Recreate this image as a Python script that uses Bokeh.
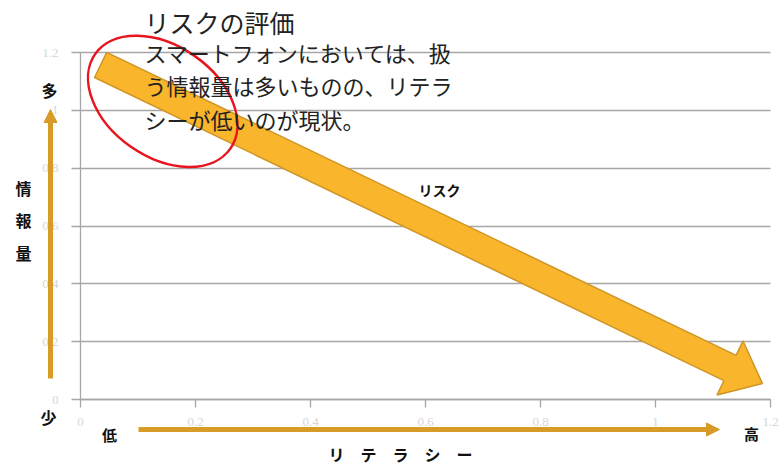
import numpy as np
from bokeh.plotting import figure
from bokeh.models import Range1d, FixedTicker, NumeralTickFormatter, Label, Arrow, NormalHead
from bokeh.embed import file_html
from bokeh.resources import INLINE

# ---------------- data ----------------
x_ticks = [0, 0.2, 0.4, 0.6, 0.8, 1.0, 1.2]
y_ticks = [0, 0.2, 0.4, 0.6, 0.8, 1.0, 1.2]
risk_literacy = [0.035, 1.186]      # start / tip of the risk arrow (x)
risk_info = [1.157, 0.055]          # start / tip of the risk arrow (y)
focus_literacy = [0.143]            # centre of the red ellipse (x)
focus_info = [1.031]                # centre of the red ellipse (y)
title_text = "リスクの評価"
body_lines = ["スマートフォンにおいては、扱", "う情報量は多いものの、リテラ", "シーが低いのが現状。"]
risk_label = "リスク"
x_axis_chars = ["リ", "テ", "ラ", "シ", "ー"]
y_axis_chars = ["情", "報", "量"]
x_low, x_high = "低", "高"
y_high, y_low = "多", "少"

# ---------------- layout ----------------
W, H = 779, 466
PX0, PX1 = 80, 770    # pixel of x=0 and x=1.2
PY0, PY1 = 399, 52    # pixel of y=0 and y=1.2
sx = (PX1 - PX0) / 1.2
sy = (PY0 - PY1) / 1.2

def dx(px):
    return (px - PX0) / sx

def dy(py):
    return (PY0 - py) / sy

def px_of(x):
    return PX0 + x * sx

def py_of(y):
    return PY0 - y * sy

JP = "Noto Sans CJK JP"
GOLD = "#D99B27"

p = figure(width=W, height=H, x_range=Range1d(dx(0), dx(W)), y_range=Range1d(dy(H), dy(0)),
           output_backend="svg", toolbar_location=None, min_border=0)
p.outline_line_color = None
p.background_fill_color = "white"
p.border_fill_color = "white"

for ax in (p.xaxis[0], p.yaxis[0]):
    ax.fixed_location = 0
    ax.bounds = (0, 1.2)
    ax.axis_line_color = "#a6a6a6"
    ax.axis_line_width = 1.3
    ax.major_tick_line_color = "#a6a6a6"
    ax.major_tick_line_width = 1.3
    ax.major_tick_in = 0
    ax.minor_tick_line_color = None
    ax.formatter = NumeralTickFormatter(format="0.[0]")
    ax.major_label_text_color = "#d6d6d6"
    ax.major_label_text_font = "Liberation Serif"
    ax.major_label_text_font_size = "13px"
p.xaxis[0].ticker = FixedTicker(ticks=x_ticks)
p.yaxis[0].ticker = FixedTicker(ticks=y_ticks)
p.xaxis[0].major_tick_out = 8
p.xaxis[0].major_label_standoff = 10
p.yaxis[0].major_tick_out = 9
p.yaxis[0].major_label_standoff = 13

p.xgrid.visible = False
p.ygrid.ticker = FixedTicker(ticks=y_ticks)
p.ygrid.cross_bounds = (0, 1.2)
p.ygrid.grid_line_color = "#a6a6a6"
p.ygrid.grid_line_width = 1.3

# ---------------- big risk arrow ----------------
S = np.array([px_of(risk_literacy[0]), py_of(risk_info[0])])
T = np.array([px_of(risk_literacy[1]), py_of(risk_info[1])])
d = (T - S) / np.linalg.norm(T - S)
n = np.array([d[1], -d[0]])
w, hw, L = 14.0, 30.0, 36.0
B = T - d * L
pts = [S + n * w, B + n * w, B + n * hw, T, B - n * hw, B - n * w, S - n * w]
p.patch([dx(q[0]) for q in pts], [dy(q[1]) for q in pts],
        fill_color="#F9B52B", line_color="#CF9525", line_width=1.5)

# ---------------- red ellipse ----------------
p.ellipse(x=focus_literacy, y=focus_info, width=165, height=111,
          width_units="screen", height_units="screen", angle=-0.61,
          fill_color=None, line_color="#E8141E", line_width=2.5)

# ---------------- small axis arrows ----------------
p.add_layout(Arrow(end=NormalHead(size=13, fill_color=GOLD, line_color=GOLD),
                   x_start=dx(138), y_start=dy(429), x_end=dx(719), y_end=dy(429),
                   line_color=GOLD, line_width=5))
p.add_layout(Arrow(end=NormalHead(size=13, fill_color=GOLD, line_color=GOLD),
                   x_start=dx(50), y_start=dy(378), x_end=dx(50), y_end=dy(109),
                   line_color=GOLD, line_width=5))

# ---------------- texts ----------------
def lab(text, px, py, size, bold=False, align="center", color="#111111"):
    p.add_layout(Label(x=px, y=H - py, x_units="screen", y_units="screen", text=text,
                       text_font=JP, text_font_size=f"{size}px",
                       text_font_style="bold" if bold else "normal",
                       text_align=align, text_baseline="middle", text_color=color))

lab(title_text, 144, 21, 25, align="left", color="#222222")
for i, line in enumerate(body_lines):
    lab(line, 144, 51 + i * 33.5, 22, align="left", color="#222222")

lab(risk_label, 439, 189, 14, bold=True)
lab(y_high, 49, 89, 16, bold=True)
lab(y_low, 48, 416, 16, bold=True)
for i, ch in enumerate(y_axis_chars):
    lab(ch, 23, 187 + i * 32.5, 16, bold=True)
lab(x_low, 109, 434, 15, bold=True)
lab(x_high, 751, 433, 15, bold=True)
for i, ch in enumerate(x_axis_chars):
    lab(ch, 336 + i * 32, 453, 16, bold=True)

open("out.html", "w").write(file_html(p, INLINE))
